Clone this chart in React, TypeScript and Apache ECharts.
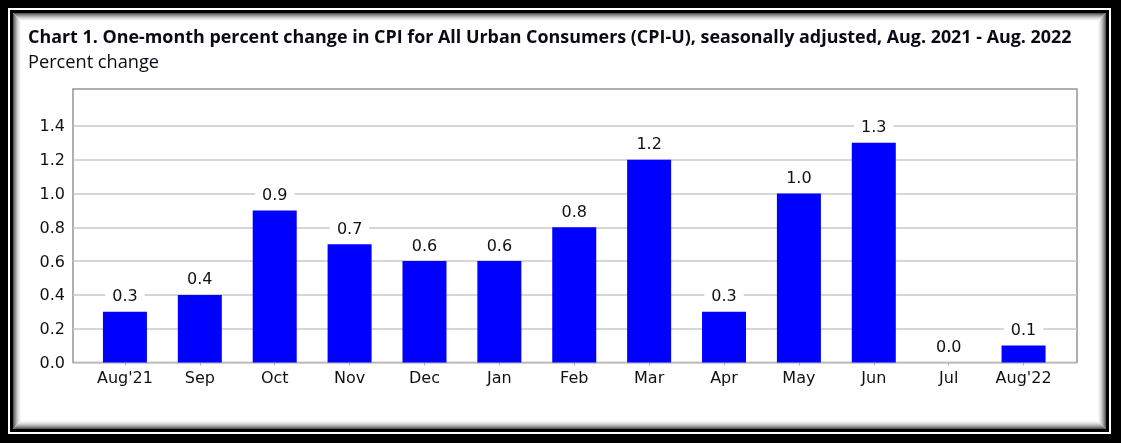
import React, { useEffect, useRef } from "react";
import * as echarts from "echarts";

const categories = ["Aug'21", "Sep", "Oct", "Nov", "Dec", "Jan", "Feb", "Mar", "Apr", "May", "Jun", "Jul", "Aug'22"];
const values = [0.3, 0.4, 0.9, 0.7, 0.6, 0.6, 0.8, 1.2, 0.3, 1.0, 1.3, 0.0, 0.1];
const titleText = "Chart 1. One-month percent change in CPI for All Urban Consumers (CPI-U), seasonally adjusted, Aug. 2021 - Aug. 2022";
const subtitleText = "Percent change";

const W = 1121;
const H = 443;
const shadowColors = ["#5a5a5a", "#7a7a7a", "#979797", "#b2b2b2", "#cacaca", "#dddddd", "#ececec", "#f7f7f7"];

export default function App() {
  const ref = useRef<HTMLDivElement>(null);
  useEffect(() => {
    if (!ref.current) return;
    const chart = echarts.init(ref.current, null, { renderer: "svg" });
    const frame: any[] = [
      { type: "rect", z: -100, shape: { x: 0, y: 0, width: W, height: H }, style: { fill: "#000" } },
      { type: "rect", z: -99, shape: { x: 8, y: 8, width: 1103, height: 426 }, style: { fill: "#fff" } },
      { type: "rect", z: -98, shape: { x: 10, y: 10, width: 1099, height: 422 }, style: { fill: "#000" } },
      { type: "rect", z: -97, shape: { x: 13, y: 13, width: 1093, height: 416 }, style: { fill: "#fff" } },
    ];
    shadowColors.forEach((c, i) => {
      frame.push({
        type: "rect",
        z: -96 + i,
        shape: { x: 13.5 + i, y: 13.5 + i, width: 1092 - 2 * i, height: 415 - 2 * i },
        style: { fill: null, stroke: c, lineWidth: 1 },
      });
    });

    const top0 = 89;
    const bottomY = 362.5;
    const unit = 33.8 / 0.2;
    const top1 = bottomY - 1.4 * unit;
    const plotLeft = 73;
    const plotRight = 1077;
    const barLeft = 87.5;
    const barRight = 1061;

    chart.setOption({
      animation: false,
      backgroundColor: "transparent",
      graphic: frame.concat([
        {
          type: "text",
          left: 28,
          top: 27,
          style: { text: titleText, font: "bold 17.9px 'Open Sans'", fill: "#0a0a14" },
        },
        {
          type: "text",
          left: 28,
          top: 51.5,
          style: { text: subtitleText, font: "18.2px 'Open Sans'", fill: "#0a0a14" },
        },
      ]),
      grid: [
        {
          left: plotLeft,
          top: top0,
          width: plotRight - plotLeft,
          height: bottomY - top0,
          show: true,
          borderColor: "#959595",
          borderWidth: 1.5,
          backgroundColor: "transparent",
        },
        {
          left: plotLeft,
          top: top1,
          width: plotRight - plotLeft,
          height: bottomY - top1,
        },
        {
          left: barLeft,
          top: top1,
          width: barRight - barLeft,
          height: bottomY - top1,
        },
      ],
      xAxis: [
        { type: "value", gridIndex: 0, show: false, min: 0, max: 1 },
        { type: "value", gridIndex: 1, show: false, min: 0, max: 1 },
        {
          type: "category",
          gridIndex: 2,
          data: categories,
          axisLine: { show: false },
          axisTick: { show: true, alignWithLabel: true, length: 3, lineStyle: { color: "#aaaaaa", width: 1 } },
          axisLabel: { fontFamily: "DejaVu Sans", fontSize: 16, color: "#111", margin: 7 },
        },
      ],
      yAxis: [
        { type: "value", gridIndex: 0, show: false, min: 0, max: 1 },
        {
          type: "value",
          gridIndex: 1,
          min: 0,
          max: 1.4,
          interval: 0.2,
          axisLine: { show: false },
          axisTick: { show: false },
          axisLabel: {
            fontFamily: "DejaVu Sans",
            fontSize: 16,
            color: "#111",
            margin: 8,
            formatter: (v: number) => v.toFixed(1),
          },
          splitLine: { show: true, lineStyle: { color: "#c8c8c8", width: 1.5 } },
        },
        { type: "value", gridIndex: 2, show: false, min: 0, max: 1.4 },
      ],
      series: [
        {
          type: "bar",
          xAxisIndex: 2,
          yAxisIndex: 2,
          data: values,
          barWidth: 44,
          itemStyle: { color: "#0000ff" },
          label: {
            show: true,
            position: "top",
            distance: 7,
            fontFamily: "DejaVu Sans",
            fontSize: 16,
            color: "#111",
            backgroundColor: "#fff",
            padding: [1, 7],
            formatter: (p: any) => Number(p.value).toFixed(1),
          },
          z: 3,
        },
      ],
    });
    return () => chart.dispose();
  }, []);
  return <div ref={ref} style={{ position: "fixed", left: 0, top: 0, width: W, height: H }} />;
}
